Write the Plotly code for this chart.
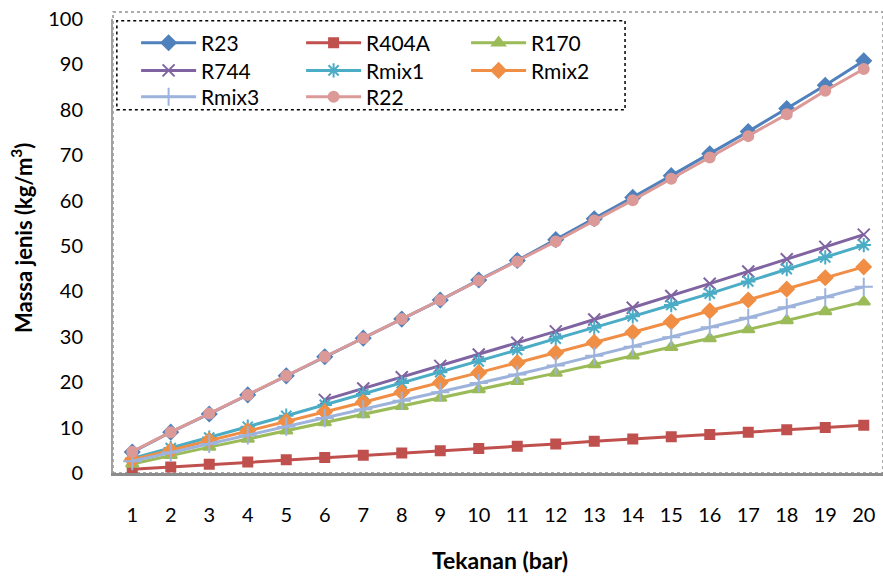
import plotly.graph_objects as go

pressure = list(range(1, 21))
series_names = ["R23", "R404A", "R170", "R744", "Rmix1", "Rmix2", "Rmix3", "R22"]
R23 = [4.6, 9.0, 13.0, 17.2, 21.4, 25.6, 29.7, 33.9, 38.1, 42.5, 46.8, 51.4, 56.0, 60.7, 65.5, 70.3, 75.2, 80.3, 85.4, 90.8]
R404A = [0.8, 1.3, 1.9, 2.4, 2.9, 3.4, 3.9, 4.4, 4.9, 5.4, 5.9, 6.4, 7.0, 7.5, 8.0, 8.5, 9.0, 9.5, 10.0, 10.5]
R170 = [2.0, 3.9, 5.7, 7.5, 9.3, 11.1, 12.9, 14.7, 16.5, 18.4, 20.2, 22.0, 23.9, 25.8, 27.7, 29.6, 31.6, 33.6, 35.6, 37.7]
R744 = [None, None, None, None, None, 16.1, 18.6, 21.1, 23.6, 26.1, 28.7, 31.2, 33.8, 36.4, 39.0, 41.7, 44.4, 47.1, 49.8, 52.5]
Rmix1 = [3.2, 5.5, 7.8, 10.2, 12.6, 15.0, 17.4, 19.8, 22.2, 24.6, 27.1, 29.6, 32.0, 34.5, 37.0, 39.5, 42.2, 44.9, 47.5, 50.2]
Rmix2 = [2.9, 5.0, 7.2, 9.3, 11.4, 13.5, 15.6, 17.8, 19.9, 22.1, 24.3, 26.5, 28.8, 31.0, 33.3, 35.7, 38.1, 40.5, 43.0, 45.4]
Rmix3 = [2.6, 4.5, 6.4, 8.3, 10.2, 12.1, 14.0, 15.9, 17.8, 19.8, 21.7, 23.7, 25.8, 27.8, 29.9, 32.1, 34.2, 36.5, 38.7, 41.0]
R22 = [4.7, 9.0, 13.1, 17.2, 21.4, 25.6, 29.7, 33.9, 38.1, 42.4, 46.6, 51.0, 55.6, 60.1, 64.8, 69.5, 74.2, 79.0, 84.2, 89.0]
y_ticks = [0, 10, 20, 30, 40, 50, 60, 70, 80, 90, 100]

data = [R23, R404A, R170, R744, Rmix1, Rmix2, Rmix3, R22]
colors = ["#4F81BD", "#C0504D", "#9BBB59", "#8064A2", "#4BACC6", "#F08E45", "#9DB3DB", "#DB9A98"]
symbols = ["diamond", "square", "triangle-up", "x-thin-open", "asterisk-open", "diamond", "cross-thin-open", "circle"]
sizes = [11, 9, 11, 12, 12, 11, 13, 10]
legend_rows = ["legend", "legend", "legend", "legend2", "legend2", "legend2", "legend3", "legend3"]

fig = go.Figure()
for name, vals, c, s, sz, lg in zip(series_names, data, colors, symbols, sizes, legend_rows):
    fig.add_trace(go.Scatter(
        x=pressure, y=vals, name=name, mode="lines+markers", legend=lg,
        line=dict(color=c, width=3),
        marker=dict(symbol=s, size=sz, color=c, line=dict(color=c, width=2)),
    ))

font_family = "Lato, 'Open Sans', sans-serif"


def row_legend(ypos):
    return dict(
        orientation="h", x=0.030, y=ypos, xanchor="left", yanchor="middle",
        entrywidth=95, entrywidthmode="pixels", traceorder="normal",
        font=dict(size=21, family=font_family), bgcolor="rgba(0,0,0,0)",
        itemwidth=55,
    )


fig.update_layout(
    width=883, height=577,
    margin=dict(l=113, r=0, t=19, b=104),
    paper_bgcolor="white", plot_bgcolor="white",
    font=dict(family=font_family, size=20, color="black"),
    showlegend=True,
    legend=row_legend(0.947),
    legend2=row_legend(0.886),
    legend3=row_legend(0.828),
    xaxis=dict(
        range=[0.5, 20.5], tickmode="array", tickvals=pressure,
        ticktext=[str(p) for p in pressure], showgrid=False, zeroline=False,
        showline=True, linecolor="#8c8c8c", linewidth=3, ticks="",
        ticklabelstandoff=22,
    ),
    yaxis=dict(
        range=[0, 100], tickmode="array", tickvals=y_ticks, showgrid=False,
        zeroline=False, showline=True, linecolor="#a0a0a0", linewidth=2, ticks="",
        ticklabelstandoff=24,
    ),
    annotations=[
        dict(text="<b>Massa jenis (kg/m<sup>3</sup>)</b>", xref="paper", yref="paper",
             x=-0.118, y=0.518, xanchor="center", yanchor="middle", textangle=-90,
             showarrow=False, font=dict(size=22, family=font_family)),
        dict(text="<b>Tekanan (bar)</b>", xref="paper", yref="paper",
             x=0.503, y=-0.192, xanchor="center", yanchor="middle",
             showarrow=False, font=dict(size=23, family=font_family)),
    ],
    shapes=[
        dict(type="rect", xref="paper", yref="paper", x0=0, x1=1, y0=0, y1=1.0154,
             line=dict(color="#909090", width=1.5, dash="dot"), layer="below"),
        dict(type="rect", xref="paper", yref="paper", x0=0.005, x1=0.665, y0=0.80, y1=0.996,
             line=dict(color="black", width=1.5, dash="dot"), layer="above"),
    ],
)

fig.write_html("out.html")
